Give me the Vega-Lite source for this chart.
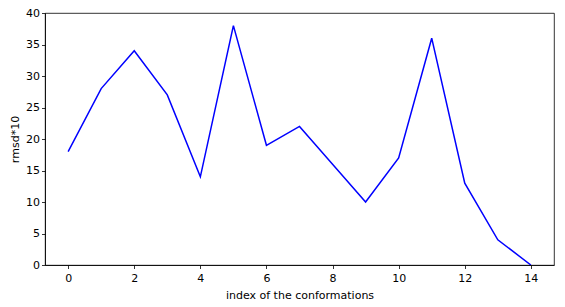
{
  "$schema": "https://vega.github.io/schema/vega-lite/v6.json",
  "width": 509,
  "height": 252,
  "autosize": {"type": "none"},
  "padding": {"left": 45, "top": 13, "right": 11, "bottom": 42},
  "background": "white",
  "config": {
    "view": {"stroke": "black", "strokeWidth": 0.8},
    "axis": {
      "labelFont": "DejaVu Sans",
      "titleFont": "DejaVu Sans",
      "labelFontSize": 11,
      "titleFontSize": 11,
      "titleFontWeight": "normal",
      "labelColor": "black",
      "titleColor": "black",
      "domainColor": "black",
      "domainWidth": 0.8,
      "tickColor": "black",
      "tickWidth": 0.8,
      "tickSize": 3.5,
      "labelPadding": 2,
      "grid": false
    }
  },
  "data": {
    "values": [
      {"index": 0, "rmsd": 18},
      {"index": 1, "rmsd": 28},
      {"index": 2, "rmsd": 34},
      {"index": 3, "rmsd": 27},
      {"index": 4, "rmsd": 14},
      {"index": 5, "rmsd": 38},
      {"index": 6, "rmsd": 19},
      {"index": 7, "rmsd": 22},
      {"index": 8, "rmsd": 16},
      {"index": 9, "rmsd": 10},
      {"index": 10, "rmsd": 17},
      {"index": 11, "rmsd": 36},
      {"index": 12, "rmsd": 13},
      {"index": 13, "rmsd": 4},
      {"index": 14, "rmsd": 0}
    ]
  },
  "mark": {"type": "line", "color": "#0000ff", "strokeWidth": 1.5, "clip": true},
  "encoding": {
    "x": {
      "field": "index",
      "type": "quantitative",
      "scale": {"domain": [-0.7, 14.7], "nice": false, "zero": false},
      "axis": {"values": [0, 2, 4, 6, 8, 10, 12, 14], "title": "index of the conformations", "labelPadding": 3.5, "titlePadding": 6}
    },
    "y": {
      "field": "rmsd",
      "type": "quantitative",
      "scale": {"domain": [0, 40], "nice": false},
      "axis": {"values": [0, 5, 10, 15, 20, 25, 30, 35, 40], "title": "rmsd*10", "titlePadding": 5}
    }
  }
}
